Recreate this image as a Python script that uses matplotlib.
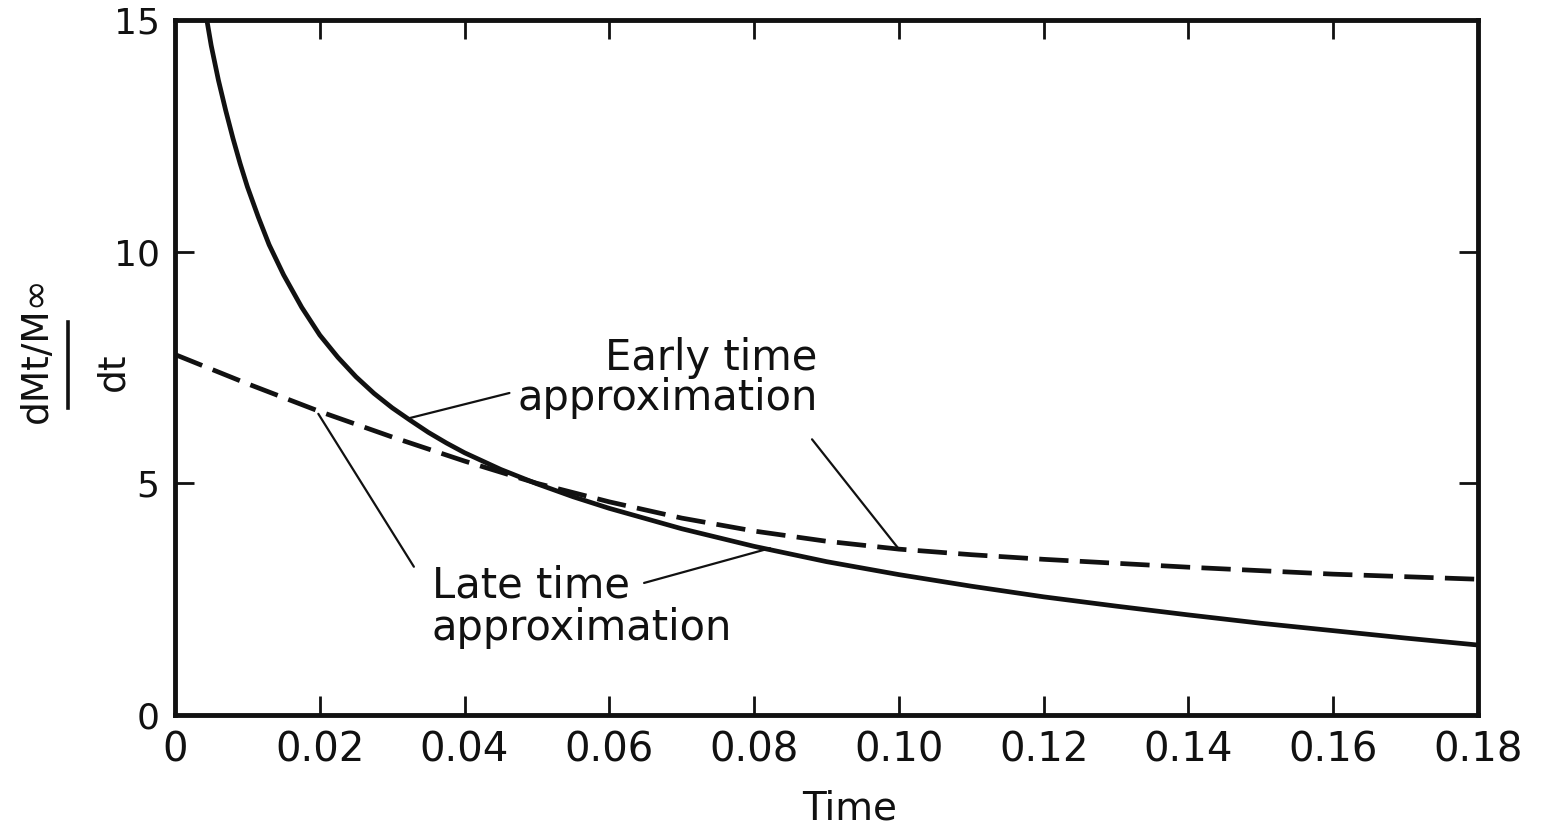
import matplotlib
matplotlib.use("Agg")
import matplotlib.pyplot as plt
from matplotlib.lines import Line2D
from matplotlib.ticker import FixedLocator, FixedFormatter

plt.rcParams['font.family'] = ['DejaVu Sans']

# ---- data ----
solid_t = [0.0040, 0.0044, 0.0050, 0.0060, 0.0070, 0.0080, 0.0090, 0.0100,
           0.0115, 0.0130, 0.0150, 0.0175, 0.0200, 0.0225, 0.0250, 0.0275,
           0.0300, 0.0325, 0.0350, 0.0375, 0.0400, 0.0450, 0.0500, 0.0550,
           0.0600, 0.0700, 0.0800, 0.0900, 0.1000, 0.1100, 0.1200, 0.1300,
           0.1400, 0.1500, 0.1600, 0.1700, 0.1800]
solid_v = [15.37, 15.0, 14.45, 13.7, 13.05, 12.45, 11.9, 11.4,
           10.75, 10.15, 9.5, 8.8, 8.2, 7.72, 7.3, 6.94,
           6.63, 6.36, 6.1, 5.87, 5.66, 5.3, 4.99, 4.71,
           4.46, 4.02, 3.64, 3.31, 3.03, 2.78, 2.55, 2.35,
           2.16, 1.98, 1.82, 1.66, 1.51]

dash_t = [0.0, 0.01, 0.02, 0.03, 0.04, 0.05, 0.06, 0.07, 0.08, 0.09, 0.10,
          0.11, 0.12, 0.14, 0.16, 0.18]
dash_v = [7.78, 7.15, 6.55, 6.0, 5.48, 5.0, 4.6, 4.25, 3.97, 3.75, 3.58,
          3.46, 3.36, 3.19, 3.04, 2.93]

x_ticks = [0, 0.02, 0.04, 0.06, 0.08, 0.10, 0.12, 0.14, 0.16, 0.18]
x_labels = ['0', '0.02', '0.04', '0.06', '0.08', '0.10', '0.12', '0.14', '0.16', '0.18']
y_ticks = [0, 5, 10, 15]
y_labels = ['0', '5', '10', '15']

early_label = 'Early time\napproximation'
late_label = 'Late time\napproximation'
x_title = 'Time'
y_num = 'dMt/M\u221e'
y_den = 'dt'

# ---- figure ----
W, H = 1551, 835
fig = plt.figure(figsize=(W / 100, H / 100), dpi=100)
fig.patch.set_facecolor('white')
L, R, T, B = 175, 1478, 20, 715
ax = fig.add_axes([L / W, 1 - B / H, (R - L) / W, (B - T) / H])

ink = '#111111'
ax.plot(solid_t, solid_v, color=ink, lw=3.4, solid_capstyle='butt',
        solid_joinstyle='round')
ax.plot(dash_t, dash_v, color=ink, lw=3.4, dashes=(6.2, 2.4))

ax.set_xlim(0, 0.18)
ax.set_ylim(0, 15)

for s in ax.spines.values():
    s.set_linewidth(3.5)
    s.set_color(ink)

ax.xaxis.set_major_locator(FixedLocator(x_ticks))
ax.xaxis.set_major_formatter(FixedFormatter(x_labels))
ax.yaxis.set_major_locator(FixedLocator(y_ticks))
ax.yaxis.set_major_formatter(FixedFormatter(y_labels))
ax.tick_params(axis='both', which='major', direction='in', length=14, width=2,
               color=ink, top=True, right=True)
ax.tick_params(axis='x', labelsize=29, pad=11, labelcolor=ink)
ax.tick_params(axis='y', labelsize=26, pad=11, labelcolor=ink)

# annotations (va='baseline' anchors the last line's baseline)
ax.text(0.0888, 6.58, early_label, ha='right', va='baseline', multialignment='right',
        fontsize=30, color=ink, linespacing=0.95)
ax.text(0.0355, 1.62, late_label, ha='left', va='baseline', multialignment='left',
        fontsize=30, color=ink, linespacing=1.02)

lead = dict(arrowstyle='-', lw=1.6, color=ink, shrinkA=0, shrinkB=0)
ax.annotate('', xy=(0.0322, 6.4), xytext=(0.0462, 6.95), arrowprops=lead)
ax.annotate('', xy=(0.100, 3.58), xytext=(0.0880, 5.95), arrowprops=lead)
ax.annotate('', xy=(0.0198, 6.5), xytext=(0.0330, 3.2), arrowprops=lead)
ax.annotate('', xy=(0.0822, 3.6), xytext=(0.0648, 2.85), arrowprops=lead)

# axis titles
fig.text(850 / W, 1 - 808 / H, x_title, ha='center', va='center', fontsize=28, color=ink)
fig.text(37 / W, 1 - 350 / H, y_num, ha='center', va='center', rotation=90,
         fontsize=27, color=ink)
fig.text(113 / W, 1 - 372 / H, y_den, ha='center', va='center', rotation=90,
         fontsize=27, color=ink)
fig.add_artist(Line2D([68 / W, 68 / W], [1 - 322 / H, 1 - 408 / H],
                      transform=fig.transFigure, color=ink, lw=2.6))

fig.savefig('out.png', dpi=100, facecolor='white')
